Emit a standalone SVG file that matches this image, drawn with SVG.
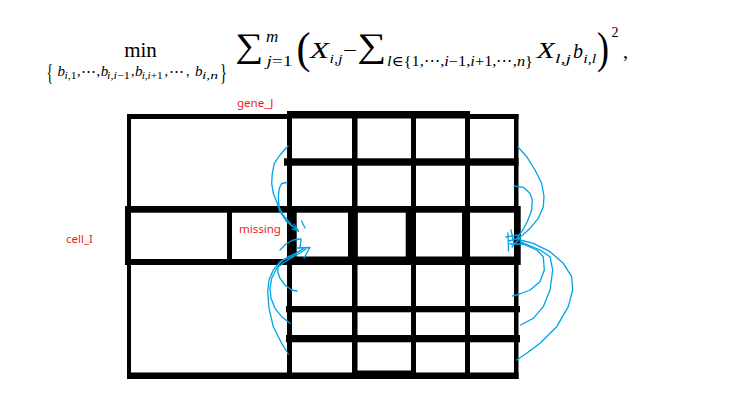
<svg xmlns="http://www.w3.org/2000/svg" width="736" height="404" viewBox="0 0 736 404">
<style>
.f{font-family:'Liberation Serif','DejaVu Serif',serif;fill:#000}
.it{font-style:italic}
.lbl{font-family:'Noto Sans','Open Sans','Liberation Sans',sans-serif;font-size:11.5px;fill:#ed1c24}
.k{fill:#000}
.c{fill:none;stroke:#00a2e8;stroke-width:1.3;stroke-linejoin:round;stroke-linecap:round}
</style>
<rect width="736" height="404" fill="#fff"/>
<g id="formula" class="f">
  <text x="140.5" y="56.5" font-size="21" text-anchor="middle">min</text>
  <text x="46.5" y="79.5" font-size="24" textLength="6.5" lengthAdjust="spacingAndGlyphs">{</text>
  <text x="57.5" y="75.5" font-size="15" class="it">b</text>
  <text x="64.5" y="79" font-size="11" textLength="12" lengthAdjust="spacingAndGlyphs"><tspan class="it">i</tspan>,1</text>
  <text x="77" y="75.5" font-size="14">,</text>
  <text x="81" y="75.5" font-size="12" textLength="15" lengthAdjust="spacingAndGlyphs">⋯</text>
  <text x="96.5" y="75.5" font-size="14">,</text>
  <text x="100.7" y="75.5" font-size="15" class="it">b</text>
  <text x="107" y="79" font-size="11" textLength="23" lengthAdjust="spacingAndGlyphs"><tspan class="it">i</tspan>,<tspan class="it">i</tspan>−1</text>
  <text x="131" y="75.5" font-size="14">,</text>
  <text x="135" y="75.5" font-size="15" class="it">b</text>
  <text x="141.7" y="79" font-size="11" textLength="21" lengthAdjust="spacingAndGlyphs"><tspan class="it">i</tspan>,<tspan class="it">i</tspan>+1</text>
  <text x="164.5" y="75.5" font-size="14">,</text>
  <text x="169" y="75.5" font-size="12" textLength="15" lengthAdjust="spacingAndGlyphs">⋯</text>
  <text x="186" y="75.5" font-size="14">,</text>
  <text x="195" y="75.5" font-size="15" class="it">b</text>
  <text x="202" y="79" font-size="11" textLength="16" lengthAdjust="spacingAndGlyphs"><tspan class="it">i</tspan>,<tspan class="it">n</tspan></text>
  <text x="220" y="79.5" font-size="24" textLength="7" lengthAdjust="spacingAndGlyphs">}</text>

  <text x="235" y="56.5" font-size="34" textLength="28" lengthAdjust="spacingAndGlyphs">∑</text>
  <text x="266" y="42" font-size="17" class="it">m</text>
  <text x="266.5" y="65.5" font-size="15" textLength="26" lengthAdjust="spacingAndGlyphs"><tspan class="it">j</tspan>=1</text>
  <text x="296.5" y="63" font-size="44" textLength="14" lengthAdjust="spacingAndGlyphs">(</text>
  <text x="310" y="58" font-size="24" class="it" textLength="19" lengthAdjust="spacingAndGlyphs">X</text>
  <text x="329.5" y="63" font-size="13" textLength="13" lengthAdjust="spacingAndGlyphs"><tspan class="it">i</tspan>,<tspan class="it">j</tspan></text>
  <text x="343" y="57" font-size="20" textLength="14" lengthAdjust="spacingAndGlyphs">−</text>
  <text x="357" y="56.5" font-size="34" textLength="29" lengthAdjust="spacingAndGlyphs">∑</text>
  <text x="387" y="66" font-size="14" textLength="146" lengthAdjust="spacingAndGlyphs"><tspan class="it">l</tspan>∈{1,⋯,<tspan class="it">i</tspan>−1,<tspan class="it">i</tspan>+1,⋯,<tspan class="it">n</tspan>}</text>
  <text x="536.7" y="58" font-size="24" class="it" textLength="18" lengthAdjust="spacingAndGlyphs">X</text>
  <text x="555" y="63" font-size="13" textLength="16" lengthAdjust="spacingAndGlyphs"><tspan class="it">l</tspan>,<tspan class="it">j</tspan></text>
  <text x="573" y="58" font-size="22" class="it" textLength="10" lengthAdjust="spacingAndGlyphs">b</text>
  <text x="583.3" y="63" font-size="13" textLength="13" lengthAdjust="spacingAndGlyphs"><tspan class="it">i</tspan>,<tspan class="it">l</tspan></text>
  <text x="597" y="63" font-size="44" textLength="12" lengthAdjust="spacingAndGlyphs">)</text>
  <text x="611.5" y="37" font-size="14">2</text>
  <text x="623" y="58" font-size="20">,</text>
</g>
<g id="labels">
  <text class="lbl" x="237" y="107">gene_J</text>
  <text class="lbl" x="239" y="233">missing</text>
  <text class="lbl" x="66" y="243">cell_I</text>
</g>
<g id="matrix" class="k">
  <g id="frame">
    <rect x="127" y="114" width="161" height="5"/>
    <rect x="287" y="111" width="183" height="7.5"/>
    <rect x="468" y="114" width="50.5" height="5"/>
    <rect x="127" y="114" width="4" height="265"/>
    <rect x="125" y="206" width="6" height="59"/>
    <rect x="127" y="372.5" width="391.5" height="6.5"/>
    <rect x="357" y="370.5" width="54" height="3"/>
    <rect x="514" y="114" width="4.5" height="265"/>
  </g>
  <g id="columns">
    <rect x="287" y="111" width="5" height="268"/>
    <rect x="352" y="111" width="5.5" height="268"/>
    <rect x="411" y="111" width="5" height="268"/>
    <rect x="465" y="111" width="5" height="268"/>
  </g>
  <g id="row-cell_I">
    <rect x="125" y="206" width="395" height="6.7"/>
    <rect x="125" y="259" width="395" height="6"/>
    <rect x="287" y="256.5" width="233" height="3"/>
    <rect x="287" y="206" width="9.7" height="59"/>
    <rect x="348" y="206" width="9.7" height="59"/>
    <rect x="405.7" y="206" width="10.3" height="59"/>
    <rect x="462" y="206" width="8" height="59"/>
    <rect x="514" y="206" width="6.7" height="59"/>
  </g>
  <g id="missing-cell">
    <rect x="227" y="206" width="5" height="59"/>
  </g>
  <g id="rows">
    <rect x="284" y="158.3" width="234.5" height="7.4"/>
    <rect x="286" y="306" width="234" height="6.3"/>
    <rect x="286" y="335" width="234" height="7.3"/>
  </g>
</g>
<g id="connectors">
  <path class="c" d="M288,146 L280,155 L274.3,163.3 L272.3,173.3 L271.7,183.3 L273.3,193.3 L276.7,201.7 L280,211.7 L286.7,221.7 L295,228.3 L298.5,231"/>
  <path class="c" d="M287,182.5 L281.7,183.5 L279.3,188.3 L278.3,196.7 L279,206.7 L283,215 L291.7,225 L296.7,230"/>
  <path class="c" d="M294,224 L298.5,231 L292,229"/>
  <path class="c" d="M301.5,221 L305,228"/>
  <path class="c" d="M288.3,354 L281.7,343.3 L273.3,326.7 L269,308.3 L267.7,291.7 L269,280 L273.3,270 L280,261.7 L288.3,256.7 L296,253 L303,249"/>
  <path class="c" d="M290,323.3 L281.7,316.7 L275,308.3 L271,298.3 L270,288.3 L271.7,278.3 L276.7,268.3 L285,261.7 L293.3,256.7 L300,253 L306,249"/>
  <path class="c" d="M297,291 L291.7,290 L285,285 L280,278.3 L277.7,271.7 L278.3,265 L283.3,260 L291.7,256.7 L298.3,252 L304,248"/>
  <path class="c" d="M280,250 L286,244 L293,240 L301,239"/>
  <path class="c" d="M297,248 L310,247.5 L304,258"/>
  <path class="c" d="M301,240 L300,248"/>
  <path class="c" d="M518,147 L526.7,156.7 L535,170 L541.7,183.3 L544,196.7 L543.3,206.7 L538.3,218.3 L530,228.3 L521.7,236 L516.7,238.3"/>
  <path class="c" d="M514,186 L523.3,187.3 L530,193.3 L532.3,200 L531.7,210 L527.3,221.7 L521.7,231.7 L517.3,237.3"/>
  <path class="c" d="M520,240 L533.3,243.3 L550,251.7 L563.3,263.3 L571.7,276.7 L572.7,290 L568.3,306.7 L556.7,326.7 L540,343.3 L526.7,353.3 L516.7,360"/>
  <path class="c" d="M520,241.7 L540,250 L550,256.7 L552.7,270 L550,290 L543.3,306.7 L533.3,318.3 L520.7,325"/>
  <path class="c" d="M521.7,243.3 L536.7,250 L543.3,256.7 L544.3,270 L540,281.7 L530,290 L520,294 L512.7,296"/>
  <path class="c" d="M508,233 L508.5,251"/>
  <path class="c" d="M506,237 L519,235"/>
  <path class="c" d="M509,241 L520,238 L512,247"/>
  <path class="c" d="M511,230 L514,244"/>
  <path class="c" d="M510,244 L524,244"/>
</g>
</svg>
